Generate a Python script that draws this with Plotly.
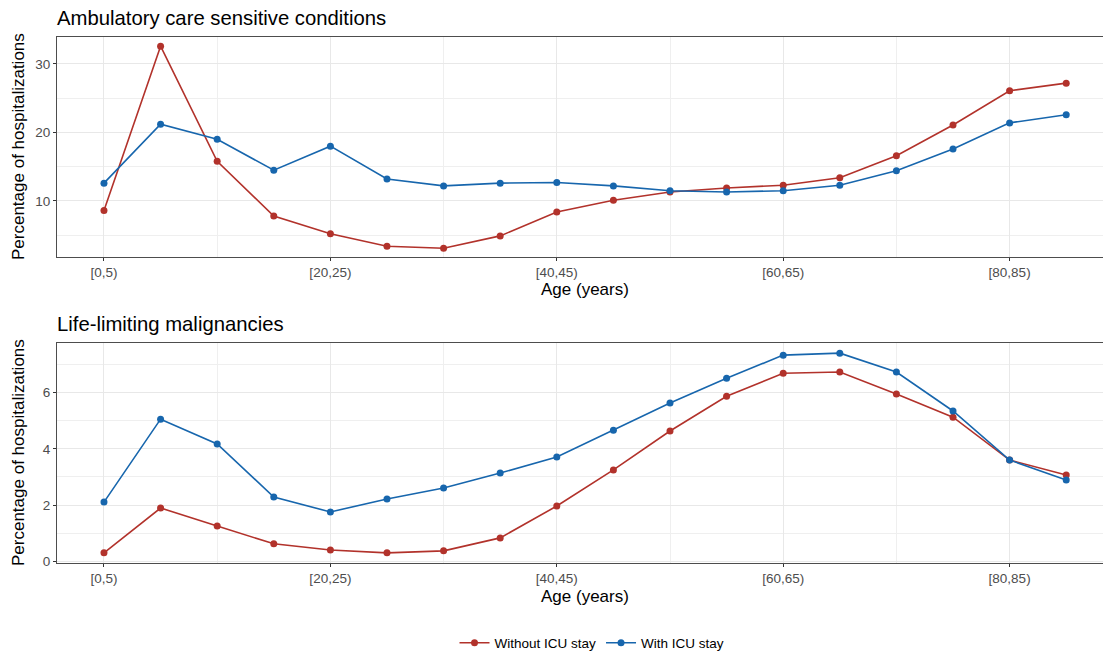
import plotly.graph_objects as go

categories = ["[0,5)", "[5,10)", "[10,15)", "[15,20)", "[20,25)", "[25,30)", "[30,35)",
              "[35,40)", "[40,45)", "[45,50)", "[50,55)", "[55,60)", "[60,65)", "[65,70)",
              "[70,75)", "[75,80)", "[80,85)", "[85,90)"]

acsc_without_icu = [8.6, 32.6, 15.8, 7.8, 5.2, 3.4, 3.1, 4.9, 8.4, 10.1, 11.3, 11.9,
                    12.3, 13.4, 16.6, 21.1, 26.1, 27.2]
acsc_with_icu = [12.6, 21.2, 19.0, 14.5, 18.0, 13.2, 12.2, 12.6, 12.7, 12.2, 11.5, 11.3,
                 11.5, 12.3, 14.4, 17.6, 21.4, 22.6]

llm_without_icu = [0.31, 1.90, 1.26, 0.63, 0.41, 0.31, 0.38, 0.84, 1.97, 3.25, 4.63, 5.86,
                   6.68, 6.72, 5.94, 5.12, 3.60, 3.07]
llm_with_icu = [2.11, 5.05, 4.17, 2.29, 1.76, 2.22, 2.61, 3.14, 3.71, 4.66, 5.62, 6.50,
                7.32, 7.39, 6.72, 5.34, 3.60, 2.89]

panel_titles = ["Ambulatory care sensitive conditions", "Life-limiting malignancies"]
series_names = ["Without ICU stay", "With ICU stay"]
x_title = "Age (years)"
y_title = "Percentage of hospitalizations"

RED = "#B2322B"
BLUE = "#1766AD"
FONT = "Liberation Sans, Arial, sans-serif"

x = list(range(len(categories)))
tick_idx = [0, 4, 8, 12, 16]
minor_idx = [2, 6, 10, 14]

fig = go.Figure()

def add(yvals, color, name, xa, ya, show):
    fig.add_trace(go.Scatter(
        x=x, y=yvals, mode="lines+markers", name=name,
        line=dict(color=color, width=1.6),
        marker=dict(color=color, size=7),
        xaxis=xa, yaxis=ya, showlegend=show, legendgroup=name))

add(acsc_without_icu, RED, series_names[0], "x", "y", True)
add(acsc_with_icu, BLUE, series_names[1], "x", "y", True)
add(llm_without_icu, RED, series_names[0], "x2", "y2", False)
add(llm_with_icu, BLUE, series_names[1], "x2", "y2", False)

W, H = 1103, 652
ml, mr, mt, mb = 57, 0, 37, 89
ph = H - mt - mb
pw = W - ml - mr

def py(pix):
    return (H - mb - pix) / ph

def px(pix):
    return (pix - ml) / pw

TICKFONT = dict(family=FONT, size=13.5, color="#4D4D4D")

xcommon = dict(
    range=[-0.83, 17.65], tickmode="array", tickvals=tick_idx,
    ticktext=[categories[i] for i in tick_idx],
    showgrid=True, gridcolor="#E8E8E8", gridwidth=1,
    minor=dict(tickmode="array", tickvals=minor_idx, showgrid=True,
               gridcolor="#EFEFEF", gridwidth=1, ticks=""),
    showline=True, linecolor="#4D4D4D", linewidth=1, mirror=True,
    ticks="outside", ticklen=3, tickcolor="#333333", tickwidth=1,
    tickfont=TICKFONT, automargin=False,
    zeroline=False, fixedrange=True,
)
ycommon = dict(
    showgrid=True, gridcolor="#E8E8E8", gridwidth=1,
    showline=True, linecolor="#4D4D4D", linewidth=1,
    ticks="outside", ticklen=3, tickcolor="#333333", tickwidth=1,
    tickfont=TICKFONT, automargin=False,
    zeroline=False, fixedrange=True,
)

fig.update_layout(
    width=W, height=H,
    margin=dict(l=ml, r=mr, t=mt, b=mb, autoexpand=False),
    paper_bgcolor="white", plot_bgcolor="white",
    font=dict(family=FONT, size=12, color="black"),
    xaxis=dict(**xcommon, domain=[0, 1], anchor="y"),
    yaxis=dict(**ycommon, domain=[py(257), 1.0], anchor="x", range=[1.82, 33.94],
               tickvals=[10, 20, 30],
               minor=dict(tickmode="array", tickvals=[5, 15, 25], showgrid=True,
                          gridcolor="#EFEFEF", gridwidth=1, ticks="")),
    xaxis2=dict(**xcommon, domain=[0, 1], anchor="y2"),
    yaxis2=dict(**ycommon, domain=[0, py(343)], anchor="x2", range=[-0.05, 7.75],
                tickvals=[0, 2, 4, 6],
                minor=dict(tickmode="array", tickvals=[1, 3, 5, 7], showgrid=True,
                           gridcolor="#EFEFEF", gridwidth=1, ticks="")),
    legend=dict(orientation="h", x=px(592), xanchor="center", y=py(643), yanchor="middle",
                font=dict(family=FONT, size=13.5, color="black"), itemwidth=30,
                bgcolor="rgba(0,0,0,0)"),
    annotations=[
        dict(text=panel_titles[0], xref="paper", yref="paper", x=px(55), y=py(18),
             xanchor="left", yanchor="middle", showarrow=False,
             font=dict(family=FONT, size=20.3, color="black")),
        dict(text=panel_titles[1], xref="paper", yref="paper", x=px(55), y=py(324),
             xanchor="left", yanchor="middle", showarrow=False,
             font=dict(family=FONT, size=20.3, color="black")),
        dict(text=x_title, xref="paper", yref="paper", x=px(585), y=py(289),
             xanchor="center", yanchor="middle", showarrow=False,
             font=dict(family=FONT, size=17, color="black")),
        dict(text=x_title, xref="paper", yref="paper", x=px(585), y=py(596),
             xanchor="center", yanchor="middle", showarrow=False,
             font=dict(family=FONT, size=17, color="black")),
        dict(text=y_title, xref="paper", yref="paper", x=px(18), y=py(147),
             xanchor="center", yanchor="middle", showarrow=False, textangle=-90,
             font=dict(family=FONT, size=17, color="black")),
        dict(text=y_title, xref="paper", yref="paper", x=px(18), y=py(453),
             xanchor="center", yanchor="middle", showarrow=False, textangle=-90,
             font=dict(family=FONT, size=17, color="black")),
    ],
)

fig.write_html(
    "out.html",
    config={"displayModeBar": False},
    post_script="document.body.style.margin='0';document.body.style.overflow='hidden';",
)
